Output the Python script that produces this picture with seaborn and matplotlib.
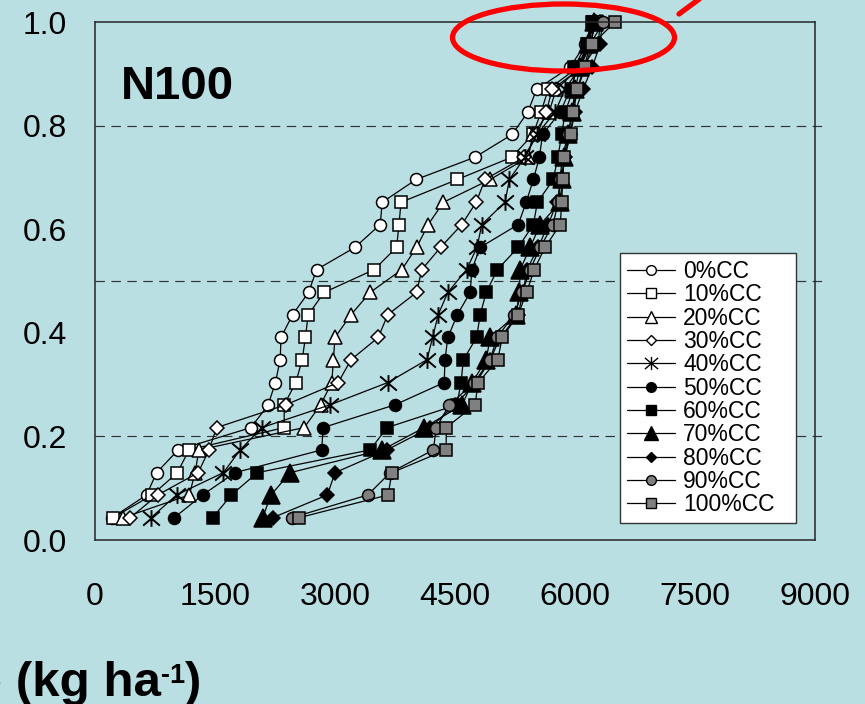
import matplotlib
matplotlib.use("Agg")
import matplotlib.pyplot as plt
import seaborn as sns
import numpy as np
from matplotlib.path import Path
from matplotlib.lines import Line2D
from matplotlib.patches import Ellipse

### Data: cumulative probability levels and values (kg ha-1) per treatment
prob = [0.043, 0.087, 0.130, 0.174, 0.217, 0.261, 0.304, 0.348, 0.391, 0.435, 0.478, 0.522,
        0.565, 0.609, 0.652, 0.696, 0.739, 0.783, 0.826, 0.870, 0.913, 0.957, 1.000]

cc0 = [215, 645, 770, 1040, 1950, 2165, 2255, 2315, 2325, 2470, 2670, 2770, 3250, 3565, 3590,
       4015, 4750, 5215, 5410, 5520, 5940, 6125, 6215]
cc10 = [225, 715, 1030, 1175, 2365, 2365, 2510, 2590, 2630, 2665, 2865, 3490, 3770, 3800, 3825,
        4530, 5210, 5475, 5575, 5665, 6040, 6165, 6225]
cc20 = [350, 1180, 1250, 1300, 2615, 2820, 2960, 2980, 3000, 3200, 3440, 3835, 4020, 4165, 4355,
        4940, 5415, 5475, 5675, 5765, 6065, 6190, 6265]
cc30 = [440, 785, 1290, 1425, 1520, 2385, 3040, 3200, 3540, 3660, 4020, 4085, 4320, 4585, 4765,
        4875, 5365, 5525, 5640, 5715, 6090, 6290, 6315]
cc40 = [700, 1020, 1605, 1815, 2085, 2940, 3660, 4150, 4220, 4290, 4410, 4645, 4775, 4835, 5125,
        5180, 5375, 5525, 5750, 5875, 6065, 6190, 6250]
cc50 = [990, 1345, 1750, 2835, 2850, 3750, 4365, 4375, 4410, 4530, 4690, 4710, 4815, 5290, 5390,
        5480, 5555, 5595, 5815, 5940, 6040, 6150, 6215]
cc60 = [1470, 1705, 2030, 3440, 3650, 4525, 4575, 4605, 4770, 4815, 4890, 5030, 5290, 5480, 5530,
        5730, 5785, 5835, 5875, 5980, 5990, 6145, 6210]
cc70 = [2095, 2200, 2440, 3590, 4115, 4590, 4715, 4890, 4940, 5265, 5305, 5315, 5440, 5565, 5815,
        5840, 5865, 5915, 5965, 6000, 6065, 6165, 6240]
cc80 = [2220, 2905, 3000, 3650, 4190, 4500, 4765, 4940, 5065, 5290, 5350, 5400, 5540, 5665, 5775,
        5825, 5875, 5940, 6000, 6100, 6215, 6315, 6340]
cc90 = [2460, 3410, 3690, 4230, 4265, 4430, 4740, 4940, 5025, 5240, 5340, 5440, 5565, 5725, 5790,
        5815, 5840, 5915, 5965, 6025, 6115, 6190, 6355]
cc100 = [2550, 3665, 3710, 4390, 4390, 4750, 4790, 5035, 5090, 5290, 5395, 5490, 5625, 5815, 5835,
         5845, 5865, 5945, 5980, 6030, 6130, 6215, 6500]

labels = ['0%CC', '10%CC', '20%CC', '30%CC', '40%CC', '50%CC', '60%CC', '70%CC', '80%CC', '90%CC', '100%CC']
series = [cc0, cc10, cc20, cc30, cc40, cc50, cc60, cc70, cc80, cc90, cc100]
xticks = [0, 1500, 3000, 4500, 6000, 7500, 9000]
yticks = [0.0, 0.2, 0.4, 0.6, 0.8, 1.0]
dash_levels = [0.2, 0.5, 0.8]

### Styles
BG = '#b9dfe3'
GREY = '#808080'
star = Path([(-1, -0.85), (1, 0.85), (-1, 0.85), (1, -0.85), (0, -1), (0, 1)],
            [Path.MOVETO, Path.LINETO, Path.MOVETO, Path.LINETO, Path.MOVETO, Path.LINETO])
# marker, face colour, plot size, legend size
styles = [('o', 'white', 8.6, 7.0), ('s', 'white', 8.4, 7.0), ('^', 'white', 10.0, 8.0),
          ('D', 'white', 7.0, 5.6), (star, 'none', 12.0, 9.5), ('o', 'black', 8.6, 7.0),
          ('s', 'black', 8.4, 7.0), ('^', 'black', 12.5, 10.5), ('D', 'black', 7.0, 5.6),
          ('o', GREY, 8.6, 7.0), ('s', GREY, 8.4, 7.0)]

sns.set_style('white')
plt.rcParams['font.family'] = ['Liberation Sans', 'DejaVu Sans']
plt.rcParams['text.color'] = 'black'
plt.rcParams['xtick.color'] = 'black'
plt.rcParams['ytick.color'] = 'black'

fig = plt.figure(figsize=(8.65, 7.04), dpi=100, facecolor=BG)
ax = fig.add_axes([95 / 865, 1 - 540 / 704, 720 / 865, 518 / 704])
ax.set_facecolor(BG)

for yv in dash_levels:
    ax.axhline(yv, xmin=0, xmax=1.014, color='#333333', lw=0.85, ls=(0, (8, 5.5)), clip_on=False, zorder=0.5)

for vals, (mk, fc, ms, _) in zip(series, styles):
    sns.lineplot(x=vals, y=prob, ax=ax, color='black', lw=0.9, marker=mk, markersize=ms,
                 markerfacecolor=fc, markeredgecolor='black',
                 markeredgewidth=1.4 if fc == 'none' else 1.1,
                 estimator=None, sort=False, legend=False, clip_on=False)

ax.set_xlim(0, 9000)
ax.set_ylim(0, 1)
ax.set_xticks(xticks)
ax.set_xticklabels([str(v) for v in xticks])
ax.set_yticks(yticks)
ax.set_yticklabels([f'{v:.1f}' for v in yticks])
ax.set_xlabel('')
ax.set_ylabel('')
ax.tick_params(axis='x', direction='out', length=7.2, width=1, pad=23, labelsize=23,
               color='#262626', labelcolor='black')
ax.tick_params(axis='y', direction='out', length=8.6, width=1, pad=11.5, labelsize=23,
               color='#262626', labelcolor='black')
for s in ax.spines.values():
    s.set_visible(True)
    s.set_color('#262626')
    s.set_linewidth(1.1)

handles = [Line2D([], [], color='black', lw=0.9, marker=mk, markersize=lms, markerfacecolor=fc,
                  markeredgecolor='black', markeredgewidth=1.0)
           for (mk, fc, _, lms) in styles]
leg = ax.legend(handles, labels, loc='upper left',
                bbox_to_anchor=(620 / 865, 1 - 522 / 704, 176 / 865, 269 / 704),
                bbox_transform=fig.transFigure, mode='expand', borderaxespad=0, fontsize=16.5,
                frameon=True, fancybox=False, shadow=False, handlelength=2.1, handletextpad=0.35,
                borderpad=0.3, labelspacing=0.015)
leg.get_frame().set_edgecolor('#333333')
leg.get_frame().set_linewidth(1.0)
leg.get_frame().set_facecolor('white')
leg.get_frame().set_alpha(1)

fig.text(121 / 865, 1 - 99 / 704, 'N100', fontsize=34, fontweight='bold', ha='left', va='baseline')

# red annotation ellipse
fig.add_artist(Ellipse((563.5 / 865, 1 - 37.5 / 704), width=222 / 865, height=67 / 704,
                       transform=fig.transFigure, fill=False, edgecolor='#ff0000', lw=3.8, zorder=10))
fig.add_artist(Line2D([679 / 865, 702 / 865], [1 - 14 / 704, 1 + 3 / 704], transform=fig.transFigure,
                      color='#ff0000', lw=3.8, zorder=10))

# x axis title (partly outside the canvas on the left, as in the source slide)
t1 = fig.text(-28 / 865, 1 - 696 / 704, 'p (kg ha', fontsize=35.5, fontweight='bold', ha='left', va='baseline')
fig.canvas.draw()
bb = t1.get_window_extent()
t2 = fig.text(bb.x1 / 865, 1 - 683 / 704, '-1', fontsize=19.5, fontweight='bold', ha='left', va='baseline')
fig.canvas.draw()
bb2 = t2.get_window_extent()
fig.text(bb2.x1 / 865, 1 - 696 / 704, ')', fontsize=35.5, fontweight='bold', ha='left', va='baseline')

fig.savefig('out.png', dpi=100, facecolor=BG)
